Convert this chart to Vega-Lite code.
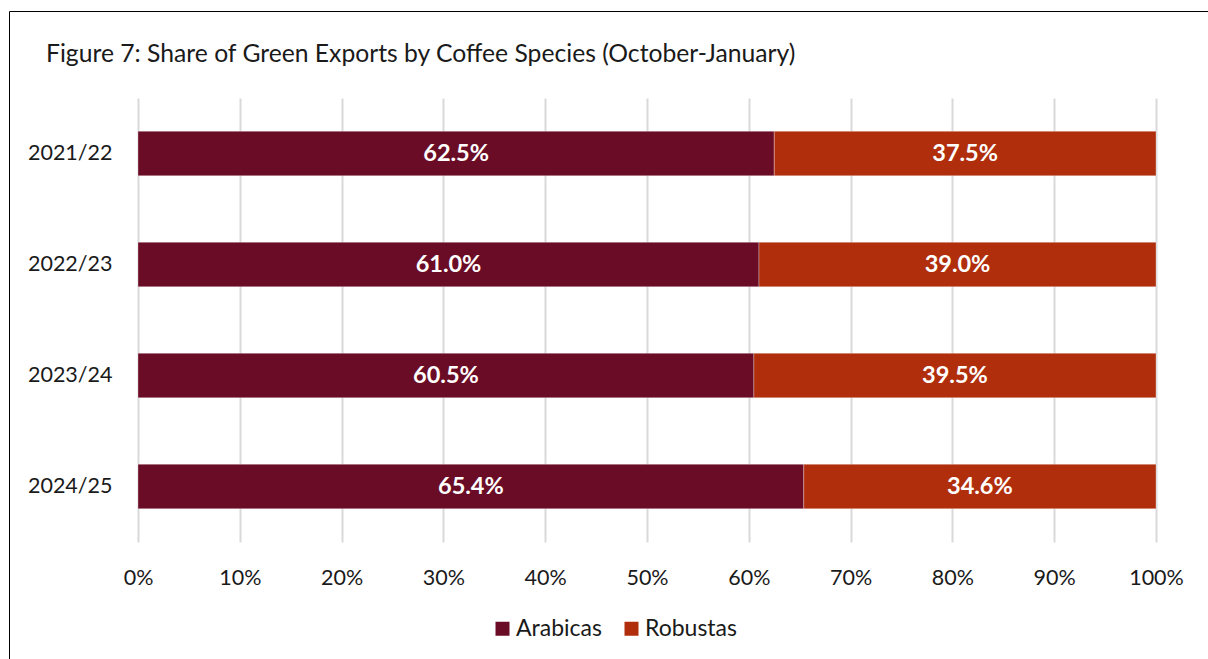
{
  "$schema": "https://vega.github.io/schema/vega-lite/v6.json",
  "width": 1018,
  "height": 444,
  "autosize": {"type": "none"},
  "padding": {"left": 138, "top": 98, "right": 52, "bottom": 117},
  "background": "white",
  "config": {"font": "Lato", "view": {"stroke": null}},
  "title": {
    "text": "Figure 7: Share of Green Exports by Coffee Species (October-January)",
    "anchor": "start",
    "frame": "group",
    "dx": -92,
    "offset": 36,
    "dy": 92,
    "fontSize": 24.7,
    "fontWeight": "normal",
    "color": "#1a1a1a"
  },
  "data": {
    "values": [
      {"season": "2021/22", "species": "Arabicas", "share": 0.625},
      {"season": "2021/22", "species": "Robustas", "share": 0.375},
      {"season": "2022/23", "species": "Arabicas", "share": 0.610},
      {"season": "2022/23", "species": "Robustas", "share": 0.390},
      {"season": "2023/24", "species": "Arabicas", "share": 0.605},
      {"season": "2023/24", "species": "Robustas", "share": 0.395},
      {"season": "2024/25", "species": "Arabicas", "share": 0.654},
      {"season": "2024/25", "species": "Robustas", "share": 0.346}
    ]
  },
  "encoding": {
    "y": {
      "field": "season",
      "type": "nominal",
      "sort": null,
      "scale": {"paddingInner": 0.6, "paddingOuter": 0.3},
      "axis": {
        "title": null,
        "domain": false,
        "ticks": false,
        "labelPadding": 26,
        "labelFontSize": 21.5,
        "labelColor": "#1a1a1a"
      }
    }
  },
  "layer": [
    {
      "mark": {"type": "bar", "stroke": "#ffffff", "strokeWidth": 0.5, "strokeOpacity": 0.6},
      "encoding": {
        "x": {
          "field": "share",
          "type": "quantitative",
          "stack": "zero",
          "scale": {"domain": [0, 1], "nice": false},
          "axis": {
            "title": null,
            "format": ".0%",
            "values": [0, 0.1, 0.2, 0.3, 0.4, 0.5, 0.6, 0.7, 0.8, 0.9, 1],
            "grid": true,
            "gridColor": "#d9d9d9",
            "gridWidth": 2,
            "domain": false,
            "ticks": false,
            "labelPadding": 25,
            "labelFontSize": 21.5,
            "labelColor": "#1a1a1a",
            "labelFlush": false
          }
        },
        "order": {"field": "species", "sort": "ascending"},
        "color": {
          "field": "species",
          "type": "nominal",
          "scale": {"domain": ["Arabicas", "Robustas"], "range": ["#6b0c26", "#b02e0c"]},
          "legend": {
            "orient": "none",
            "legendX": -129,
            "legendY": -87,
            "direction": "horizontal",
            "title": "                                                            ",
            "titleFontSize": 22,
            "titleLimit": 2000,
            "titlePadding": 102,
            "padding": 482,
            "strokeColor": "#000000",
            "symbolType": "square",
            "symbolSize": 196,
            "symbolStrokeWidth": 0,
            "labelFontSize": 23,
            "labelColor": "#1a1a1a",
            "labelOffset": 2,
            "columnPadding": 18
          }
        }
      }
    },
    {
      "mark": {"type": "text", "color": "#ffffff", "fontWeight": "bold", "fontSize": 23.5},
      "encoding": {
        "x": {"field": "share", "type": "quantitative", "stack": "zero", "bandPosition": 0.5},
        "detail": {"field": "species"},
        "order": {"field": "species", "sort": "ascending"},
        "text": {"field": "share", "type": "quantitative", "format": ".1%"}
      }
    }
  ]
}
